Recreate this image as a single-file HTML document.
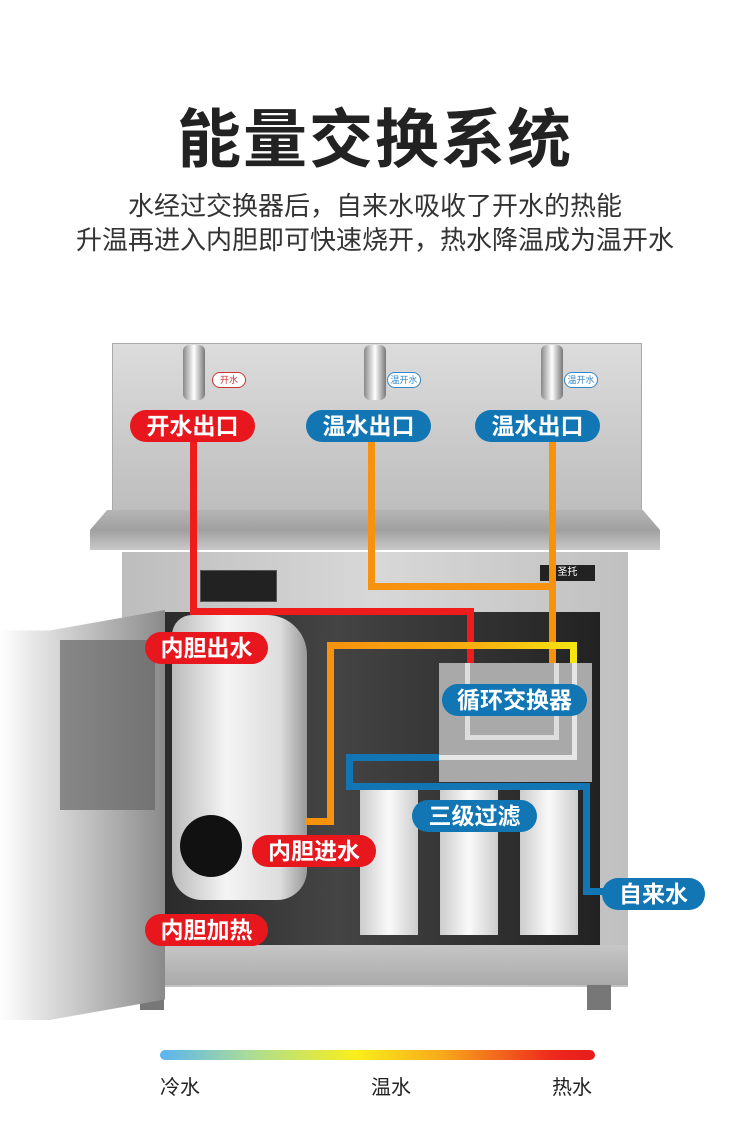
<!DOCTYPE html>
<html><head><meta charset="utf-8"><style>
body{margin:0;width:750px;height:1143px;background:#fff;position:relative;overflow:hidden;font-family:"Liberation Sans","Noto Sans CJK SC",sans-serif}
.a{position:absolute}
.pill{position:absolute;color:#fff;font-weight:bold;font-size:23px;border-radius:17px;text-align:center;line-height:32px;height:32px}
.r{background:#e8161d}.b{background:#1176b3}
.l{position:absolute}
</style></head><body>
<div class="a" style="left:0;top:100px;width:750px;text-align:center;font-size:64px;font-weight:bold;color:#222;letter-spacing:2px;line-height:80px">能量交换系统</div>
<div class="a" style="left:0;top:189px;width:750px;text-align:center;font-size:26px;color:#333;line-height:34px">水经过交换器后，自来水吸收了开水的热能<br>升温再进入内胆即可快速烧开，热水降温成为温开水</div>

<div class="a" style="left:112px;top:343px;width:528px;height:170px;background:linear-gradient(#dcdcdc,#c9c9c9 60%,#bdbdbd);border:1px solid #aaa"></div>
<div class="a" style="left:183px;top:345px;width:22px;height:55px;background:linear-gradient(90deg,#888,#fff,#777);border-radius:6px"></div>
<div class="a" style="left:364px;top:345px;width:22px;height:55px;background:linear-gradient(90deg,#888,#fff,#777);border-radius:6px"></div>
<div class="a" style="left:541px;top:345px;width:22px;height:55px;background:linear-gradient(90deg,#888,#fff,#777);border-radius:6px"></div>
<div class="a" style="left:212px;top:372px;width:32px;height:14px;border:1px solid #c33;border-radius:8px;background:#fff;font-size:9px;color:#c33;text-align:center;line-height:14px">开水</div>
<div class="a" style="left:387px;top:372px;width:32px;height:14px;border:1px solid #38c;border-radius:8px;background:#fff;font-size:9px;color:#38c;text-align:center;line-height:14px">温开水</div>
<div class="a" style="left:564px;top:372px;width:32px;height:14px;border:1px solid #38c;border-radius:8px;background:#fff;font-size:9px;color:#38c;text-align:center;line-height:14px">温开水</div>
<div class="a" style="left:90px;top:510px;width:570px;height:40px;background:linear-gradient(#b5b5b5,#a0a0a0 50%,#c9c9c9);clip-path:polygon(3% 0,97% 0,100% 50%,100% 100%,0 100%,0 50%)"></div>
<div class="a" style="left:122px;top:552px;width:506px;height:435px;background:linear-gradient(90deg,#bdbdbd,#d8d8d8 50%,#c0c0c0)"></div>
<div class="a" style="left:200px;top:570px;width:75px;height:30px;background:#222;border:1px solid #555"></div>
<div class="a" style="left:540px;top:565px;width:55px;height:16px;background:#222;color:#fff;font-size:10px;line-height:16px;text-align:center">圣托</div>
<div class="a" style="left:160px;top:612px;width:440px;height:333px;background:linear-gradient(90deg,#2a2a2a,#444 40%,#222)"></div>
<div class="a" style="left:172px;top:615px;width:135px;height:285px;background:linear-gradient(90deg,#bbb,#f4f4f4 40%,#ddd 80%,#999);border-radius:20px 40px 30px 30px"></div>
<div class="a" style="left:180px;top:815px;width:62px;height:62px;background:#111;border-radius:50%"></div>
<div class="a" style="left:360px;top:785px;width:58px;height:150px;background:linear-gradient(90deg,#ccc,#fafafa,#ccc)"></div>
<div class="a" style="left:440px;top:785px;width:58px;height:150px;background:linear-gradient(90deg,#ccc,#fafafa,#ccc)"></div>
<div class="a" style="left:520px;top:785px;width:58px;height:150px;background:linear-gradient(90deg,#ccc,#fafafa,#ccc)"></div>
<div class="a" style="left:122px;top:945px;width:506px;height:40px;background:linear-gradient(#c6c6c6,#aaa)"></div>
<div class="a" style="left:140px;top:985px;width:24px;height:25px;background:#777"></div>
<div class="a" style="left:587px;top:985px;width:24px;height:25px;background:#777"></div>
<div class="a" style="left:0;top:610px;width:165px;height:410px;background:linear-gradient(90deg,#fff,#d0d0d0 40%,#8a8a8a);clip-path:polygon(30% 5%,100% 0,100% 95%,30% 100%,0 100%,0 5%)"></div>
<div class="a" style="left:60px;top:640px;width:95px;height:170px;background:#666;opacity:.7"></div>

<div class="a" style="left:439px;top:663px;width:153px;height:119px;background:#a9a9a9"></div>
<div class="a" style="left:465px;top:663px;width:84px;height:72px;border:5px solid #ddd;border-top:none"></div>
<div class="a" style="left:439px;top:663px;width:133px;height:92px;border-right:5px solid #e6e6e6;border-bottom:5px solid #e6e6e6"></div>

<div class="l" style="left:190px;top:440px;width:7px;height:175px;background:#ee1c1c"></div>
<div class="l" style="left:190px;top:608px;width:284px;height:7px;background:#ee1c1c"></div>
<div class="l" style="left:467px;top:608px;width:7px;height:55px;background:#ee1c1c"></div>
<div class="l" style="left:368px;top:440px;width:7px;height:150px;background:#f7920f"></div>
<div class="l" style="left:368px;top:583px;width:188px;height:7px;background:#f7920f"></div>
<div class="l" style="left:549px;top:440px;width:7px;height:223px;background:#f7920f"></div>
<div class="l" style="left:327px;top:642px;width:250px;height:7px;background:linear-gradient(90deg,#f7920f,#f7b00f 60%,#f5e612)"></div>
<div class="l" style="left:570px;top:642px;width:7px;height:21px;background:#f5e612"></div>
<div class="l" style="left:327px;top:642px;width:7px;height:183px;background:#f7920f"></div>
<div class="l" style="left:305px;top:818px;width:29px;height:7px;background:#f7920f"></div>
<div class="l" style="left:346px;top:754px;width:93px;height:7px;background:#1176b3"></div>
<div class="l" style="left:346px;top:754px;width:7px;height:36px;background:#1176b3"></div>
<div class="l" style="left:346px;top:783px;width:244px;height:7px;background:#1176b3"></div>
<div class="l" style="left:583px;top:783px;width:7px;height:112px;background:#1176b3"></div>
<div class="l" style="left:583px;top:888px;width:25px;height:7px;background:#1176b3"></div>

<div class="pill r" style="left:130px;top:410px;width:125px">开水出口</div>
<div class="pill b" style="left:306px;top:410px;width:125px">温水出口</div>
<div class="pill b" style="left:475px;top:410px;width:125px">温水出口</div>
<div class="pill r" style="left:145px;top:632px;width:123px">内胆出水</div>
<div class="pill b" style="left:442px;top:684px;width:145px">循环交换器</div>
<div class="pill b" style="left:412px;top:800px;width:125px">三级过滤</div>
<div class="pill r" style="left:252px;top:835px;width:124px">内胆进水</div>
<div class="pill b" style="left:602px;top:878px;width:103px">自来水</div>
<div class="pill r" style="left:145px;top:914px;width:123px">内胆加热</div>

<div class="a" style="left:160px;top:1050px;width:435px;height:10px;border-radius:5px;background:linear-gradient(90deg,#5ab4f0,#a8dc9a 20%,#f9ef1a 45%,#f7a81a 65%,#ee2a1d 90%,#e51c1c)"></div>
<div class="a" style="left:160px;top:1071px;font-size:20px;color:#222">冷水</div>
<div class="a" style="left:371px;top:1071px;font-size:20px;color:#222">温水</div>
<div class="a" style="left:552px;top:1071px;font-size:20px;color:#222">热水</div>
</body></html>
